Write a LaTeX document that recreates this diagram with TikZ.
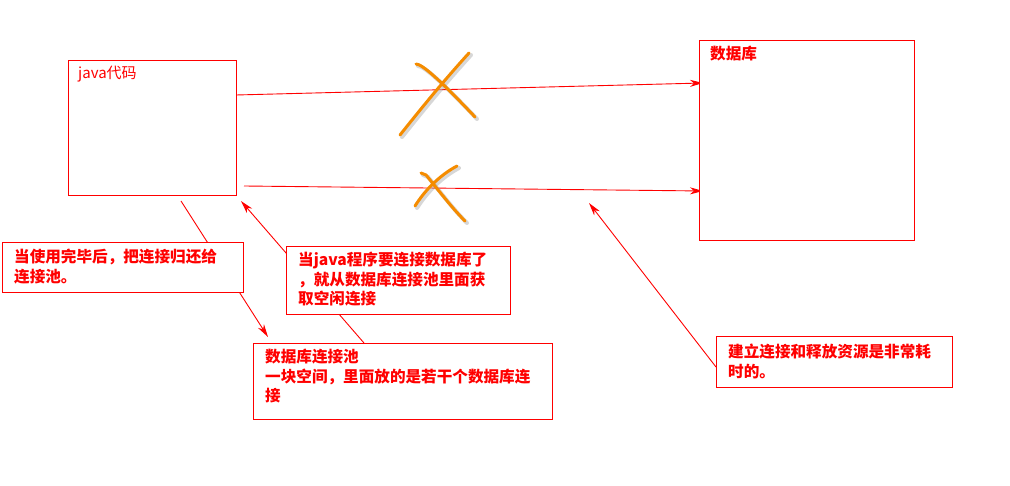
\documentclass[tikz,border=0pt]{standalone}
\usepackage{fontspec}
\setmainfont{Noto Sans CJK SC}
\usetikzlibrary{arrows.meta}
\definecolor{redc}{RGB}{255,0,0}
\definecolor{xorange}{RGB}{245,140,0}
\begin{document}
\begin{tikzpicture}[x=1pt,y=-1pt,
  box/.style={draw=redc,line width=1pt,fill=white,anchor=north west,inner sep=0pt,minimum width=#1},
  lbl/.style={anchor=north west,inner sep=0pt,text=redc,align=left,font=\fontsize{15.6}{19.5}\selectfont\bfseries},
  conn/.style={draw=redc,line width=0.9pt,-{Stealth[length=13pt,width=7pt,inset=4pt]}},
  xmark/.style={draw=xorange,line width=3pt,line cap=round},
  xshadow/.style={draw=black!35,line width=4pt,line cap=round,opacity=0.45}]
\useasboundingbox (0,0) rectangle (1010,486);
% connector end points
\coordinate (j1) at (236,95);
\coordinate (d1) at (703,83);
\coordinate (j2) at (244,186);
\coordinate (d2) at (703,191);
\coordinate (r0) at (181,201);
\coordinate (r1) at (268,337);
\coordinate (g0) at (364,343);
\coordinate (g1) at (241,201);
\coordinate (t0) at (716,367);
\coordinate (t1) at (589,203);
% connectors
\draw[conn] (j1) -- (d1);
\draw[conn] (j2) -- (d2);
\draw[conn] (r0) -- (r1);
\draw[conn] (g0) -- (g1);
\draw[conn] (t0) -- (t1);
% boxes
\node[box=168pt,minimum height=135pt] (java) at (68,60) {};
\node[box=215pt,minimum height=200pt] (db) at (699,40) {};
\node[box=241pt,minimum height=50pt] (ret) at (2,242) {};
\node[box=224pt,minimum height=68pt] (get) at (286,246) {};
\node[box=299pt,minimum height=76pt] (pool) at (253,343) {};
\node[box=236pt,minimum height=51pt] (cost) at (716,336) {};
% texts
\node[anchor=north west,inner sep=0pt,text=redc,font=\fontsize{15}{18}\selectfont] (javat) at (78,66) {java代码};
\node[lbl] (dbt) at (710,46) {数据库};
\node[lbl] (rett) at (14,249) {当使用完毕后，把连接归还给\\连接池。};
\node[lbl] (gett) at (298,252) {当java程序要连接数据库了\\，就从数据库连接池里面获\\取空闲连接};
\node[lbl] (poolt) at (265,349) {数据库连接池\\一块空间，里面放的是若干个数据库连\\接};
\node[lbl] (costt) at (728,344) {建立连接和释放资源是非常耗\\时的。};
% crosses (shadow then stroke)
\begin{scope}[shift={(2,2)}]
\draw[xshadow] (416,64) .. controls (422,64) and (440,80) .. (475,117);
\draw[xshadow] (469,53) .. controls (440,85) and (420,110) .. (400,135);
\draw[xshadow] (421,173) -- (426,175) .. controls (440,192) and (452,208) .. (465,221);
\draw[xshadow] (457,166) .. controls (440,175) and (425,190) .. (415,206);
\end{scope}
\draw[xmark] (416,64) .. controls (422,64) and (440,80) .. (475,117);
\draw[xmark] (469,53) .. controls (440,85) and (420,110) .. (400,135);
\draw[xmark] (421,173) -- (426,175) .. controls (440,192) and (452,208) .. (465,221);
\draw[xmark] (457,166) .. controls (440,175) and (425,190) .. (415,206);
\end{tikzpicture}
\end{document}
